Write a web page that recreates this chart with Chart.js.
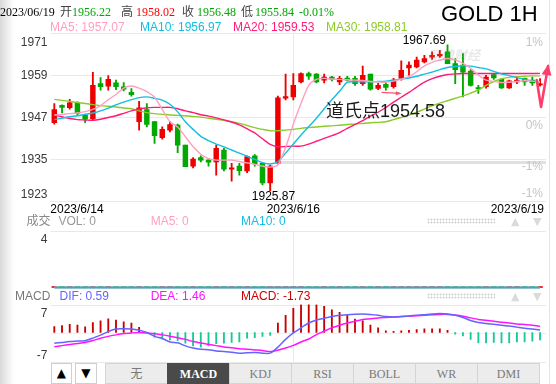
<!DOCTYPE html>
<html>
<head>
<meta charset="utf-8">
<script src="https://cdn.jsdelivr.net/npm/chart.js@4.4.1/dist/chart.umd.min.js"></script>
<style>
html,body{margin:0;padding:0;background:#fff;}
body{width:556px;height:384px;overflow:hidden;position:relative;font-family:"Liberation Sans",Arial,"Noto Sans CJK SC",sans-serif;}
.t{position:absolute;white-space:nowrap;}
canvas{position:absolute;left:0;}
.btn{position:absolute;top:363px;height:21px;box-sizing:border-box;border:1px solid #cfcfcf;background:#fff;color:#000;text-align:center;line-height:19px;font-family:"DejaVu Sans",sans-serif;font-size:12px;}
.tab{position:absolute;top:363px;height:21px;box-sizing:border-box;border:1px solid #d4d4d4;border-right:none;background:#ececec;color:#7a7a7a;text-align:center;line-height:20px;font-family:"Liberation Serif","Noto Sans CJK SC",serif;font-size:12px;}
.tab.on{background:#4a4a4a;color:#fff;font-weight:bold;border-color:#4a4a4a;}
.dots{position:absolute;width:68px;height:6px;background-image:radial-gradient(circle,#cfcfcf 0.9px,rgba(255,255,255,0) 1.1px);background-size:3px 3px;}
</style>
</head>
<body>
<div style="position:absolute;left:0;top:0;width:14px;height:384px;background:linear-gradient(to right,rgba(0,0,0,0.15),rgba(0,0,0,0));"></div>
<div style="position:absolute;left:549px;top:0;width:1px;height:384px;background:#e4e4e4"></div>
<canvas id="main" width="556" height="218" style="top:0"></canvas>
<canvas id="vol" width="556" height="66" style="top:226px"></canvas>
<canvas id="macd" width="556" height="66" style="top:300px"></canvas>
<div id="overlay"></div>
<script>
// ---------------- data ----------------
const categories = ['K1','K2','K3','K4','K5','K6','K7','K8','K9','K10','K11','K12','K13','K14','K15','K16','K17','K18','K19','K20','K21','K22','K23','K24','K25','K26','K27','K28','K29','K30','K31','K32','K33','K34','K35','K36','K37','K38','K39','K40','K41','K42','K43','K44','K45','K46','K47','K48','K49','K50','K51','K52','K53','K54','K55','K56','K57','K58','K59','K60','K61','K62','K63','K64'];
const opens  = [1945.4,1950.4,1949.7,1951.1,1947.6,1946.6,1956.6,1955.9,1956.8,1955.7,1954.1,1945.7,1949.2,1945.7,1941.1,1943.3,1944.7,1939.0,1933.0,1935.4,1934.7,1934.2,1937.6,1932.1,1933.0,1931.6,1935.9,1933.8,1928.2,1933.8,1952.4,1952.8,1957.1,1959.5,1959.3,1957.6,1958.5,1957.1,1958.2,1958.1,1956.6,1959.3,1955.2,1956.4,1955.7,1958.1,1961.1,1961.4,1962.8,1964.2,1964.5,1965.7,1962.3,1961.9,1960.2,1955.3,1955.7,1959.2,1957.8,1955.4,1957.1,1958.1,1957.6,1956.22];
const highs  = [1950.9,1950.5,1952.1,1951.4,1947.9,1959.8,1958.3,1958.9,1957.6,1956.9,1955.2,1951.5,1950.9,1945.7,1944.2,1945.8,1945.0,1939.0,1935.4,1935.9,1935.2,1939.0,1938.1,1933.8,1933.8,1935.9,1936.3,1933.8,1933.3,1953.0,1959.3,1959.5,1959.7,1959.9,1959.5,1959.3,1958.7,1958.7,1958.7,1958.7,1961.6,1959.3,1956.7,1956.8,1958.1,1963.1,1962.8,1964.2,1964.7,1965.7,1966.1,1967.69,1963.8,1965.2,1960.6,1956.1,1959.0,1959.5,1958.1,1957.6,1958.1,1958.2,1958.5,1958.02];
const lows   = [1945.0,1948.2,1949.3,1947.6,1945.4,1946.3,1954.7,1954.7,1954.9,1954.5,1953.0,1943.3,1944.2,1939.5,1940.7,1942.8,1936.8,1932.8,1932.5,1934.2,1933.0,1930.4,1931.6,1928.7,1930.4,1931.1,1933.0,1927.6,1925.87,1933.8,1951.9,1951.9,1956.8,1957.8,1956.8,1956.8,1957.4,1956.3,1957.4,1956.1,1956.1,1954.7,1954.9,1954.7,1955.3,1957.6,1959.0,1961.1,1962.5,1963.5,1964.1,1962.3,1956.6,1952.8,1955.9,1953.8,1955.3,1957.8,1955.2,1955.2,1956.6,1956.1,1956.1,1955.84];
const closes = [1949.2,1949.8,1951.1,1948.1,1946.4,1956.1,1955.7,1957.8,1955.7,1955.0,1953.4,1949.7,1944.9,1941.7,1943.5,1944.9,1939.0,1932.8,1935.0,1934.7,1934.1,1938.1,1932.1,1932.5,1931.7,1935.7,1933.6,1928.2,1933.0,1952.5,1952.9,1956.1,1959.5,1958.7,1957.1,1958.5,1957.8,1958.1,1957.6,1956.6,1959.0,1955.0,1956.1,1955.5,1957.6,1960.4,1961.9,1963.3,1963.8,1964.7,1965.0,1962.3,1960.6,1959.9,1956.1,1955.1,1958.5,1958.2,1955.4,1957.4,1957.6,1957.1,1956.8,1956.48];
const ma5  = [1947.6,1947.8,1948.0,1948.2,1948.6,1949.2,1950.3,1952.0,1953.5,1955.3,1955.9,1955.3,1954.3,1952.7,1949.2,1945.7,1944.2,1941.4,1938.6,1936.4,1935.1,1934.7,1934.7,1934.7,1934.3,1933.9,1933.5,1933.0,1932.7,1933.3,1938.3,1945.0,1950.9,1956.1,1957.8,1958.1,1957.9,1957.8,1957.7,1957.6,1957.5,1957.2,1957.1,1957.0,1957.3,1957.9,1958.6,1960.0,1961.7,1962.7,1963.3,1963.8,1963.4,1962.4,1961.0,1959.1,1957.6,1957.2,1956.9,1957.0,1957.2,1957.4,1957.3,1957.07];
const ma10 = [1946.3,1946.7,1947.1,1947.4,1947.8,1948.2,1948.8,1949.6,1950.5,1951.3,1952.0,1952.6,1952.8,1952.4,1951.9,1950.7,1948.5,1945.7,1943.5,1941.5,1940.3,1939.3,1938.5,1937.6,1936.7,1935.8,1934.9,1934.0,1933.6,1934.3,1936.7,1939.3,1941.9,1944.3,1946.7,1949.4,1952.0,1954.4,1957.0,1957.1,1957.1,1957.1,1957.2,1957.3,1957.6,1957.9,1958.2,1958.7,1959.3,1959.9,1960.6,1961.2,1961.5,1961.7,1961.6,1961.2,1960.8,1960.1,1959.4,1958.9,1958.3,1957.8,1957.3,1956.97];
const ma20 = [1947.6,1947.1,1946.6,1946.3,1946.2,1946.1,1946.4,1946.9,1947.4,1948.1,1948.8,1949.3,1949.7,1949.8,1949.8,1949.8,1949.4,1948.8,1948.3,1947.7,1947.3,1946.8,1946.2,1945.6,1944.8,1943.7,1942.5,1940.8,1939.2,1938.5,1938.6,1938.7,1938.7,1939.3,1940.1,1940.9,1941.7,1942.6,1943.8,1944.9,1946.0,1947.3,1948.4,1949.8,1951.3,1952.7,1954.1,1955.6,1957.0,1958.0,1958.7,1959.2,1959.4,1959.5,1959.5,1959.5,1959.5,1959.5,1959.5,1959.5,1959.5,1959.5,1959.5,1959.53];
const ma30 = [1952.1,1951.8,1951.5,1951.2,1950.9,1950.6,1950.3,1950.1,1949.9,1949.6,1949.4,1948.8,1948.3,1948.0,1947.8,1947.6,1947.5,1947.4,1947.2,1947.0,1946.7,1946.4,1946.1,1945.7,1945.2,1944.6,1944.0,1943.5,1943.1,1943.1,1943.3,1943.5,1943.8,1944.0,1944.2,1944.4,1944.5,1944.7,1944.9,1945.0,1945.2,1945.4,1945.5,1945.7,1946.3,1946.9,1947.6,1948.4,1949.3,1950.2,1951.0,1951.7,1952.4,1953.1,1953.9,1954.8,1956.1,1957.2,1958.0,1958.4,1958.6,1958.7,1958.8,1958.81];
const volumes = [0,0,0,0,0,0,0,0,0,0,0,0,0,0,0,0,0,0,0,0,0,0,0,0,0,0,0,0,0,0,0,0,0,0,0,0,0,0,0,0,0,0,0,0,0,0,0,0,0,0,0,0,0,0,0,0,0,0,0,0,0,0,0,0];
const volMA5 = volumes.slice();
const volMA10 = volumes.slice();
const dif  = [-2.5,-2.3,-2.1,-2.0,-1.9,-1.3,-0.6,0.2,0.8,0.85,0.8,0.5,0.0,-0.9,-1.4,-2.2,-2.4,-3.1,-3.6,-3.9,-4.0,-4.3,-4.4,-4.6,-4.8,-4.7,-4.65,-4.8,-4.8,-3.4,-1.6,-0.1,1.1,2.2,2.9,3.3,3.7,4.0,4.15,4.25,4.3,4.2,4.0,3.7,3.6,3.7,3.85,4.0,4.15,4.3,4.4,4.3,4.0,3.5,2.8,2.3,2.1,1.9,1.7,1.5,1.25,1.0,0.8,0.59];
const dea  = [-3.3,-3.05,-2.8,-2.55,-2.3,-1.85,-1.35,-0.9,-0.55,-0.25,-0.1,0.0,-0.1,-0.3,-0.55,-0.85,-1.2,-1.6,-2.1,-2.45,-2.75,-3.05,-3.35,-3.55,-3.75,-3.9,-4.05,-4.2,-4.4,-4.1,-3.6,-3.0,-2.2,-1.5,-0.5,0.3,1.1,1.7,2.2,2.6,3.0,3.2,3.4,3.5,3.6,3.7,3.8,3.9,4.0,4.1,4.2,4.2,4.05,3.8,3.4,3.05,2.85,2.6,2.4,2.2,2.0,1.85,1.7,1.46];
const macdHist = [1.4,1.6,1.9,1.7,1.3,2.3,2.7,3.2,2.9,2.5,2.2,1.2,0.0,-1.1,-1.5,-1.7,-1.9,-2.5,-3.1,-3.4,-3.1,-2.6,-2.5,-2.3,-2.2,-1.3,-1.2,-0.9,-0.7,2.2,4.0,5.6,6.5,6.7,6.5,6.1,5.3,4.7,4.0,3.1,2.7,1.7,1.1,0.4,0.3,0.4,0.5,0.7,0.85,0.85,0.85,0.5,-0.4,-0.8,-1.6,-2.4,-2.4,-2.3,-2.4,-2.4,-2.2,-2.2,-2.0,-1.73];

// tick labels & marks
const yTicks = [1923, 1935, 1947, 1959, 1971];
const yTickLabels = ['1923', '1935', '1947', '1959', '1971'];
const pctTickValues = [1968.5, 1944.7, 1933.0, 1925.3];
const pctTickLabels = ['1%', '0%', '-1%', '-1%'];
const dateTickIndex = [0, 31, 63];
const dateTickLabels = ['2023/6/14', '2023/6/16', '2023/6/19'];
const volTicks = [4];
const volTickLabels = ['4'];
const macdTicks = [7, -7];
const macdTickLabels = ['7', '-7'];
const highIndex = 51, highValue = 1967.69;
const lowIndex = 28, lowValue = 1925.87;
const refLineValue = 1934.2, refLineFrom = 29.3;
const dividerIndex = 31;
const arrowPath = [[62.57, 1957.6], [63.13, 1949.9], [64.04, 1961.6]];
const smallArrow = [[42.5, 1954.1], [44.8, 1953.8]];

// texts
const headerDate = '2023/06/19';
const quoteOpen = '1956.22', quoteHigh = '1958.02', quoteClose = '1956.48', quoteLow = '1955.84', quoteChg = '-0.01%';
const maLegend = ['MA5: 1957.07', 'MA10: 1956.97', 'MA20: 1959.53', 'MA30: 1958.81'];
const volLegend = ['VOL: 0', 'MA5: 0', 'MA10: 0'];
const macdLegend = ['DIF: 0.59', 'DEA: 1.46', 'MACD: -1.73'];
const tabLabels = ['无', 'MACD', 'KDJ', 'RSI', 'BOLL', 'WR', 'DMI'];
const activeTab = 1;

// ---------------- styles ----------------
const UP = '#ee0000', DOWN = '#00a800';
const C_MA5 = '#ff9fc0', C_MA10 = '#14bede', C_MA20 = '#ff1a78', C_MA30 = '#8ccb2a';
const C_DIF = '#6464ff', C_DEA = '#ff14ff', C_HUP = '#c80000', C_HDN = '#18c896';
const GRID = '#e8e8e8';
const SANS = '"Liberation Sans", Arial, "Noto Sans CJK SC", sans-serif';
const SERIF = '"Liberation Serif", "Times New Roman", "Noto Sans CJK SC", serif';
const CJK = '"Noto Sans CJK SC", sans-serif';
const PAD_L = 50.45, PAD_R = 12.1;

// ---------------- overlay text ----------------
const overlay = document.getElementById('overlay');
function addText(txt, left, cy, color, size, family, extra) {
  const d = document.createElement('div');
  d.className = 't';
  d.textContent = txt;
  const k = family === CJK ? 0.556 : 0.49;
  d.style.cssText += `left:${left}px;top:${cy - k * size}px;color:${color};font-size:${size}px;line-height:${size}px;font-family:${family};` + (extra || '');
  overlay.appendChild(d);
  return d;
}
addText(headerDate, 0, 11.7, '#000', 12, SERIF);
addText('开', 60, 11.7, '#444', 12, CJK);
addText(quoteOpen, 72, 11.7, '#00a800', 12, SERIF);
addText('高', 121, 11.7, '#444', 12, CJK);
addText(quoteHigh, 136, 11.7, '#ff0000', 12, SERIF);
addText('收', 182, 11.7, '#444', 12, CJK);
addText(quoteClose, 197, 11.7, '#00a800', 12, SERIF);
addText('低', 241, 11.7, '#444', 12, CJK);
addText(quoteLow, 255, 11.7, '#00a800', 12, SERIF);
addText(quoteChg, 299, 11.7, '#00a800', 12, SERIF);
[[50, C_MA5], [140, C_MA10], [233, C_MA20], [326, C_MA30]].forEach((p, i) => addText(maLegend[i], p[0], 26.7, p[1], 12, SANS));
addText('GOLD 1H', 441, 13.5, '#000', 22, SANS);
addText('新浪财经', 428, 55, 'rgba(150,150,150,0.22)', 13, CJK, 'font-weight:bold;font-style:italic;');
addText('道氏点1954.58', 326, 111, '#1a1a1a', 18, SANS);

addText('成交', 26.5, 221, '#888', 12, CJK);
addText(volLegend[0], 58.5, 221, '#999', 12, SANS);
addText(volLegend[1], 150.7, 221, C_MA5, 12, SANS);
addText(volLegend[2], 241, 221, C_MA10, 12, SANS);
addText('MACD', 15, 296, '#777', 12, SANS);
addText(macdLegend[0], 59.6, 296, C_DIF, 12, SANS);
addText(macdLegend[1], 150.7, 296, C_DEA, 12, SANS);
addText(macdLegend[2], 241, 296, '#cc0000', 12, SANS);
[221, 296].forEach(cy => {
  const d = document.createElement('div'); d.className = 'dots';
  d.style.left = '427px'; d.style.top = (cy - 3) + 'px'; overlay.appendChild(d);
  addText('▲', 511, cy, '#dadada', 11, '"DejaVu Sans", sans-serif');
  addText('▼', 533, cy, '#dadada', 11, '"DejaVu Sans", sans-serif');
});
// bottom buttons & tabs
[['▲', 50.5], ['▼', 75]].forEach(b => {
  const d = document.createElement('div'); d.className = 'btn'; d.textContent = b[0];
  d.style.left = b[1] + 'px'; d.style.width = '21.5px'; overlay.appendChild(d);
});
tabLabels.forEach((lab, i) => {
  const d = document.createElement('div');
  d.className = 'tab' + (i === activeTab ? ' on' : '');
  d.textContent = lab;
  d.style.left = (105 + i * 62) + 'px';
  d.style.width = (i === tabLabels.length - 1 ? 63 : 62) + 'px';
  if (i === tabLabels.length - 1) d.style.borderRight = '1px solid #d4d4d4';
  overlay.appendChild(d);
});

// ---------------- helpers ----------------
function clamp(v, a, b) { return Math.max(a, Math.min(b, v)); }
function hline(ctx, x0, x1, y, color, w) {
  ctx.beginPath(); ctx.strokeStyle = color; ctx.lineWidth = w || 1;
  const yy = (w || 1) % 2 === 1 ? Math.round(y) + 0.5 : y;
  ctx.moveTo(x0, yy); ctx.lineTo(x1, yy); ctx.stroke();
}
function vline(ctx, x, y0, y1, color) {
  ctx.beginPath(); ctx.strokeStyle = color; ctx.lineWidth = 1;
  const xx = Math.round(x) + 0.5;
  ctx.moveTo(xx, y0); ctx.lineTo(xx, y1); ctx.stroke();
}
function yLabels(chart, values, labels, x, align, color) {
  const { ctx, chartArea: a, scales: { y } } = chart;
  ctx.save();
  ctx.font = '12px ' + SANS; ctx.fillStyle = color; ctx.textAlign = align; ctx.textBaseline = 'middle';
  values.forEach((v, i) => {
    const py = clamp(y.getPixelForValue(v), a.top + 8.5, a.bottom - 6.5);
    ctx.fillText(labels[i], x, py + 0.5);
  });
  ctx.restore();
}
function arrowHead(ctx, p0, p1, len, half) {
  const ang = Math.atan2(p1[1] - p0[1], p1[0] - p0[0]);
  ctx.beginPath();
  ctx.moveTo(p1[0] + Math.cos(ang) * 2, p1[1] + Math.sin(ang) * 2);
  ctx.lineTo(p1[0] - Math.cos(ang) * len + Math.sin(ang) * half, p1[1] - Math.sin(ang) * len - Math.cos(ang) * half);
  ctx.lineTo(p1[0] - Math.cos(ang) * len - Math.sin(ang) * half, p1[1] - Math.sin(ang) * len + Math.cos(ang) * half);
  ctx.closePath(); ctx.fill();
}
const candleColor = (c) => closes[c.dataIndex] >= opens[c.dataIndex] ? UP : DOWN;
const baseOpts = (padTop, padBottom, ymin, ymax) => ({
  responsive: false, animation: false, events: [],
  layout: { padding: { left: PAD_L, right: PAD_R, top: padTop, bottom: padBottom } },
  scales: { x: { display: false }, y: { display: false, min: ymin, max: ymax } },
  plugins: { legend: { display: false }, tooltip: { enabled: false } }
});

// ---------------- main chart ----------------
const mainDecor = {
  id: 'mainDecor',
  beforeDatasetsDraw(chart) {
    const { ctx, chartArea: a, scales: { x, y } } = chart;
    ctx.save();
    yTicks.forEach(v => hline(ctx, a.left, a.right + 2, y.getPixelForValue(v), GRID, 1));
    vline(ctx, x.getPixelForValue(dividerIndex), a.top, a.bottom, GRID);
    hline(ctx, x.getPixelForValue(refLineFrom), a.right + 2, y.getPixelForValue(refLineValue), '#e0e0e0', 3);
    ctx.restore();
  },
  afterDatasetsDraw(chart) {
    const { ctx, chartArea: a, scales: { x, y } } = chart;
    yLabels(chart, yTicks, yTickLabels, 47.5, 'right', '#3a3a3a');
    yLabels(chart, pctTickValues, pctTickLabels, 543, 'right', '#c4c4c4');
    ctx.save();
    ctx.font = '12px ' + SANS; ctx.fillStyle = '#000'; ctx.textBaseline = 'middle';
    dateTickIndex.forEach((idx, i) => {
      const px = x.getPixelForValue(idx);
      ctx.textAlign = i === 0 ? 'left' : (i === dateTickIndex.length - 1 ? 'right' : 'center');
      const xx = i === 0 ? px - 4 : (i === dateTickIndex.length - 1 ? px + 4 : px);
      ctx.fillText(dateTickLabels[i], xx, a.bottom + 9);
    });
    ctx.textAlign = 'right';
    ctx.fillText(highValue.toFixed(2), x.getPixelForValue(highIndex) - 1.5, y.getPixelForValue(highValue) - 4);
    ctx.textAlign = 'center';
    ctx.fillText(lowValue.toFixed(2), x.getPixelForValue(lowIndex) + 3.3, y.getPixelForValue(lowValue) + 6);
    // annotation arrows
    const toPx = p => [x.getPixelForValue(p[0]), y.getPixelForValue(p[1])];
    const pts = arrowPath.map(toPx);
    ctx.strokeStyle = '#ff3d6c'; ctx.fillStyle = '#ff3d6c'; ctx.lineWidth = 2.6; ctx.lineJoin = 'round'; ctx.lineCap = 'round';
    ctx.beginPath(); ctx.moveTo(pts[0][0], pts[0][1]);
    for (let i = 1; i < pts.length; i++) ctx.lineTo(pts[i][0], pts[i][1]);
    ctx.stroke();
    arrowHead(ctx, pts[pts.length - 2], pts[pts.length - 1], 9, 5);
    const sp = smallArrow.map(toPx);
    ctx.lineWidth = 1.4; ctx.strokeStyle = '#ff5078'; ctx.fillStyle = '#ff5078';
    ctx.beginPath(); ctx.moveTo(sp[0][0], sp[0][1]); ctx.lineTo(sp[1][0], sp[1][1]); ctx.stroke();
    arrowHead(ctx, sp[0], sp[1], 4, 2);
    ctx.restore();
  }
};
new Chart(document.getElementById('main'), {
  type: 'bar',
  data: {
    labels: categories,
    datasets: [
      { type: 'line', data: ma5, borderColor: C_MA5, borderWidth: 1.4, pointRadius: 0, tension: 0.25, order: 1 },
      { type: 'line', data: ma10, borderColor: C_MA10, borderWidth: 1.4, pointRadius: 0, tension: 0.25, order: 1 },
      { type: 'line', data: ma20, borderColor: C_MA20, borderWidth: 1.4, pointRadius: 0, tension: 0.25, order: 1 },
      { type: 'line', data: ma30, borderColor: C_MA30, borderWidth: 1.4, pointRadius: 0, tension: 0.25, order: 1 },
      { data: lows.map((l, i) => [l, highs[i]]), backgroundColor: candleColor, barThickness: 1.2, grouped: false, borderWidth: 0, order: 3 },
      { data: opens.map((o, i) => [o, closes[i]]), backgroundColor: candleColor, barThickness: 4.8, grouped: false, borderWidth: 0, minBarLength: 1.2, order: 2 }
    ]
  },
  options: baseOpts(33.3, 17, 1923, 1971),
  plugins: [mainDecor]
});

// ---------------- volume chart ----------------
new Chart(document.getElementById('vol'), {
  type: 'bar',
  data: {
    labels: categories,
    datasets: [
      { type: 'line', data: volMA5, borderColor: C_MA5, borderWidth: 2, pointRadius: 0, clip: false, order: 2 },
      { type: 'line', data: volMA10, borderColor: '#20b4c8', borderWidth: 2, pointRadius: 0, clip: false, order: 1 },
      { data: volumes, backgroundColor: candleColor, barThickness: 4.8, minBarLength: 1, borderWidth: 0, grouped: false, clip: false, order: 3 }
    ]
  },
  options: baseOpts(4.5, 4.5, 0, 4),
  plugins: [{
    id: 'volDecor',
    beforeDatasetsDraw(chart) {
      const { ctx, chartArea: a, scales: { x } } = chart;
      ctx.save();
      hline(ctx, a.left, a.right + 2, a.top, GRID, 1);
      vline(ctx, x.getPixelForValue(dividerIndex), a.top, a.bottom, GRID);
      ctx.restore();
    },
    afterDatasetsDraw(chart) { yLabels(chart, volTicks, volTickLabels, 47.5, 'right', '#3a3a3a'); }
  }]
});

// ---------------- MACD chart ----------------
new Chart(document.getElementById('macd'), {
  type: 'bar',
  data: {
    labels: categories,
    datasets: [
      { type: 'line', data: dif, borderColor: C_DIF, borderWidth: 1.5, pointRadius: 0, tension: 0.25, order: 1 },
      { type: 'line', data: dea, borderColor: C_DEA, borderWidth: 1.5, pointRadius: 0, tension: 0.25, order: 1 },
      { data: macdHist, backgroundColor: c => macdHist[c.dataIndex] >= 0 ? C_HUP : C_HDN, barThickness: 1.2, borderWidth: 0, order: 2 }
    ]
  },
  options: baseOpts(4.5, 4.5, -6.74, 6.51),
  plugins: [{
    id: 'macdDecor',
    beforeDatasetsDraw(chart) {
      const { ctx, chartArea: a, scales: { x, y } } = chart;
      ctx.save();
      hline(ctx, a.left, a.right + 2, a.top, GRID, 1);
      hline(ctx, a.left, a.right + 2, a.bottom, GRID, 1);
      hline(ctx, a.left, a.right + 2, y.getPixelForValue(0), '#f0f0f0', 1);
      vline(ctx, x.getPixelForValue(dividerIndex), a.top, a.bottom, GRID);
      ctx.restore();
    },
    afterDatasetsDraw(chart) { yLabels(chart, macdTicks, macdTickLabels, 47.5, 'right', '#3a3a3a'); }
  }]
});
</script>
</body>
</html>
